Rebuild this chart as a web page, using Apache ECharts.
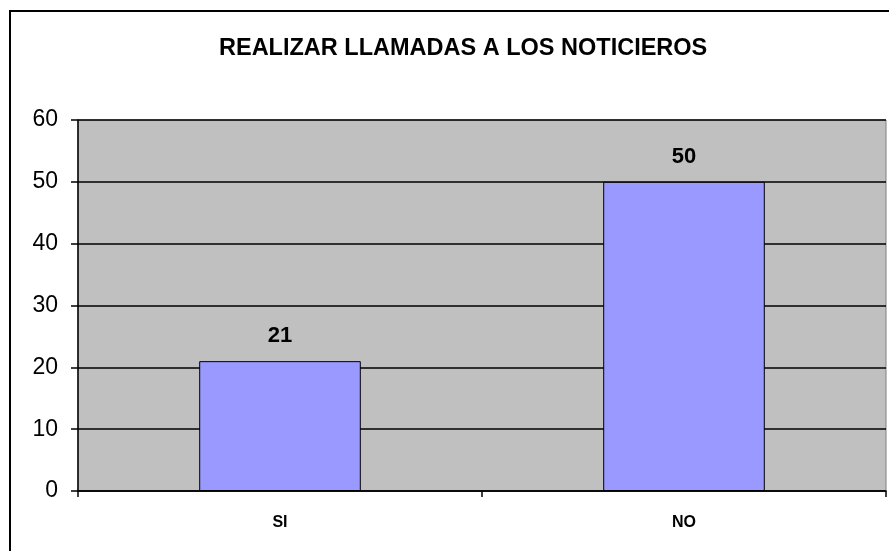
<!DOCTYPE html>
<html>
<head>
<meta charset="utf-8">
<script src="https://cdn.jsdelivr.net/npm/echarts@6/dist/echarts.min.js"></script>
<style>
  html, body { margin: 0; padding: 0; background: #fff; }
  #chart { width: 889px; height: 551px; }
</style>
</head>
<body>
<div id="chart"></div>
<script>
var titleText = 'REALIZAR LLAMADAS A LOS NOTICIEROS';
var categories = ['SI', 'NO'];
var values = [21, 50];
var yMin = 0, yMax = 60, yStep = 10;

var chart = echarts.init(document.getElementById('chart'), null, { renderer: 'canvas' });
var font = 'Liberation Sans, Arial, sans-serif';

chart.setOption({
  animation: false,
  backgroundColor: '#fff',
  title: {
    text: titleText,
    left: 214,
    top: 32,
    textStyle: { fontFamily: font, fontWeight: 'bold', fontSize: 23.5, color: '#000' }
  },
  grid: {
    left: 78, top: 120, right: 3, bottom: 60,
    show: true,
    backgroundColor: '#C0C0C0',
    borderColor: '#808080',
    borderWidth: 1
  },
  xAxis: {
    type: 'category',
    data: categories,
    axisLine: { lineStyle: { color: '#000', width: 1.5 } },
    axisTick: { show: true, length: 6, lineStyle: { color: '#000', width: 1.5 } },
    axisLabel: { margin: 24, fontFamily: font, fontWeight: 'bold', fontSize: 16, color: '#000' },
    splitLine: { show: false }
  },
  yAxis: {
    type: 'value',
    min: yMin, max: yMax, interval: yStep,
    axisLine: { show: true, lineStyle: { color: '#000', width: 1.5 } },
    axisTick: { show: true, length: 7, lineStyle: { color: '#000', width: 1.5 } },
    axisLabel: { margin: 20, fontFamily: font, fontSize: 23, color: '#000' },
    splitLine: { show: true, lineStyle: { color: '#000', width: 1.5 } }
  },
  series: [{
    type: 'bar',
    data: values,
    barWidth: '40%',
    itemStyle: { color: '#9999FF', borderColor: '#000', borderWidth: 1 },
    label: {
      show: true,
      position: 'top',
      distance: 14,
      fontFamily: font,
      fontWeight: 'bold',
      fontSize: 22,
      color: '#000'
    }
  }],
  graphic: [{
    type: 'rect',
    shape: { x: 10, y: 11, width: 900, height: 600 },
    style: { fill: 'none', stroke: '#000', lineWidth: 2 },
    silent: true
  }]
});
</script>
</body>
</html>
